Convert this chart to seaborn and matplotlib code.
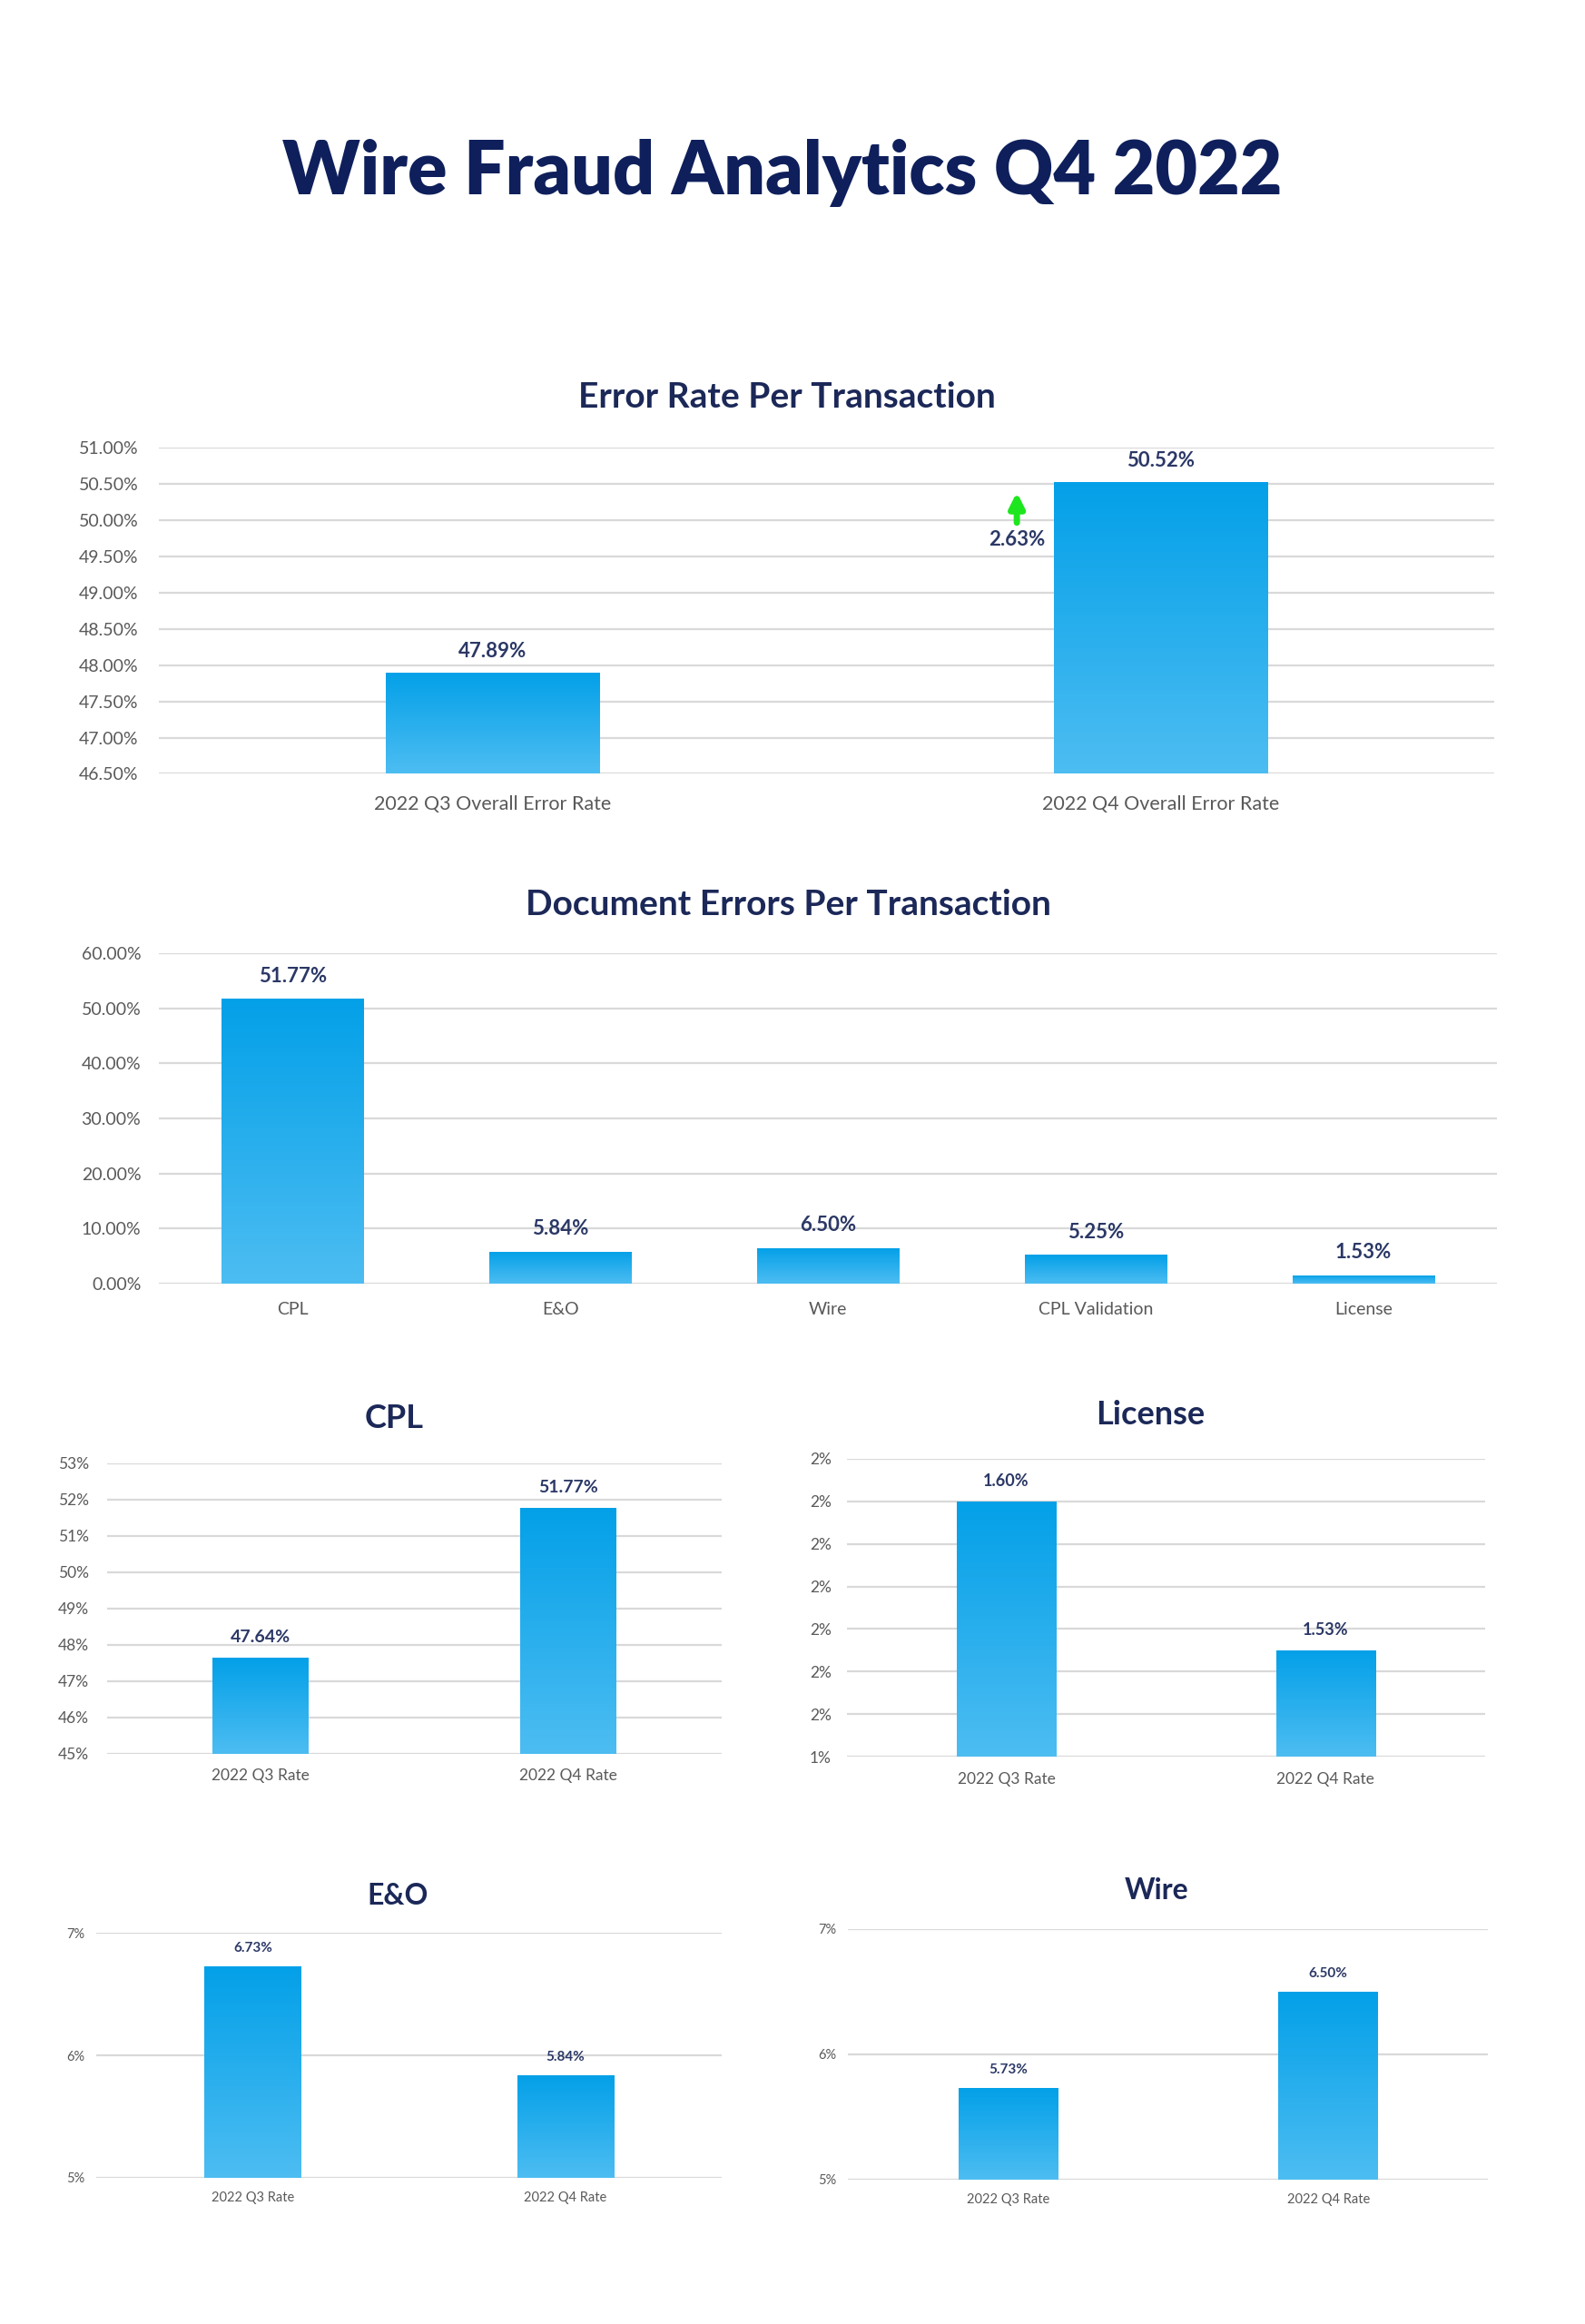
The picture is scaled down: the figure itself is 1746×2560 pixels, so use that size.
import numpy as np
import matplotlib
matplotlib.use("Agg")
import matplotlib.pyplot as plt
import seaborn as sns
from matplotlib.colors import LinearSegmentedColormap

# Данные
title_main = "Wire Fraud Analytics Q4 2022"

overall_labels = ["2022 Q3 Overall Error Rate", "2022 Q4 Overall Error Rate"]
overall_values = [47.89, 50.52]
overall_change = 2.63

doc_labels = ["CPL", "E&O", "Wire", "CPL Validation", "License"]
doc_values = [51.77, 5.84, 6.50, 5.25, 1.53]

rate_labels = ["2022 Q3 Rate", "2022 Q4 Rate"]
cpl_values = [47.64, 51.77]
license_values = [1.60, 1.53]
eo_values = [6.73, 5.84]
wire_values = [5.73, 6.50]

# Стиль
sns.set_theme(style="white")
plt.rcParams["font.family"] = ["Lato", "DejaVu Sans"]

NAVY = "#0e1f5b"
SUB = "#1b2858"
LBL = "#2b3866"
TICK = "#595959"
GRID = "#d9d9d9"
grad = LinearSegmentedColormap.from_list("bar", ["#4dbdf2", "#03a0e8"])

fig = plt.figure(figsize=(17.46, 25.6), dpi=100)
fig.patch.set_facecolor("white")

fig.text(0.4938, 0.9254, title_main, ha="center", va="center",
         fontsize=58, fontweight="heavy", color=NAVY)


def draw_bars(rect, labels, values, ylim, yticks, fmt, width, title, title_xy,
              title_size, ytick_size, xtick_size, lbl_size, lbl_off, xpad, ypad):
    ax = fig.add_axes(rect)
    sns.barplot(x=labels, y=values, color="#1aa8eb", width=width,
                saturation=1, linewidth=0, ax=ax)
    ax.set_ylim(*ylim)
    ax.set_yticks(yticks)
    ax.set_yticklabels([fmt.format(t) for t in yticks])
    xl = ax.get_xlim()
    # градиент на каждом столбце
    g = np.linspace(0, 1, 256).reshape(-1, 1)
    for p in ax.patches:
        x0, w, h = p.get_x(), p.get_width(), p.get_height()
        y_bot = max(ylim[0], p.get_y())
        im = ax.imshow(g, cmap=grad, origin="lower", aspect="auto",
                       extent=[x0, x0 + w, y_bot, p.get_y() + h], zorder=2)
        im.set_clip_path(p)
        ax.annotate(f"{h:.2f}%", (x0 + w / 2, h), xytext=(0, lbl_off),
                    textcoords="offset points", ha="center", va="center",
                    fontsize=lbl_size, fontweight="bold", color=LBL)
    ax.set_xlim(xl)
    ax.set_ylim(*ylim)
    ax.yaxis.grid(True, color=GRID, linewidth=1.6)
    ax.set_axisbelow(True)
    sns.despine(ax=ax, left=True, bottom=True)
    ax.tick_params(axis="x", length=0, pad=xpad, labelsize=xtick_size, colors=TICK)
    ax.tick_params(axis="y", length=0, pad=ypad, labelsize=ytick_size, colors=TICK)
    ax.set_xlabel("")
    ax.set_ylabel("")
    fig.text(title_xy[0], title_xy[1], title, ha="center", va="center",
             fontsize=title_size, fontweight="bold", color=SUB)
    return ax


ax1 = draw_bars([0.1001, 0.6670, 0.8427, 0.1404], overall_labels, overall_values,
                (46.5, 51.0), np.arange(46.5, 51.01, 0.5), "{:.2f}%", 0.32,
                "Error Rate Per Transaction", (0.4966, 0.8290), 28,
                14, 15.5, 16, 17, 17, 16)
# стрелка роста
ax1.annotate("", xy=(0.785, 50.42), xytext=(0.785, 49.93),
             arrowprops=dict(arrowstyle="-|>", color="#1ee61e", lw=5,
                             mutation_scale=24))
ax1.text(0.785, 49.73, f"{overall_change:.2f}%", ha="center", va="center",
         fontsize=16, fontweight="bold", color=LBL)

draw_bars([0.1001, 0.4476, 0.8446, 0.1422], doc_labels, doc_values,
          (0, 60), np.arange(0, 60.1, 10), "{:.2f}%", 0.53,
          "Document Errors Per Transaction", (0.4976, 0.6109), 28,
          14, 14, 16, 18, 14, 14)

draw_bars([0.0673, 0.2454, 0.3882, 0.1250], rate_labels, cpl_values,
          (45, 53), np.arange(45, 53.1, 1), "{:.0f}%", 0.31,
          "CPL", (0.2488, 0.3895), 26,
          12.5, 12.5, 14, 16, 12, 14)

draw_bars([0.5341, 0.2441, 0.4031, 0.1282], rate_labels, license_values,
          (1.48, 1.62), np.arange(1.48, 1.621, 0.02), "{:.0f}%", 0.31,
          "License", (0.7258, 0.3914), 26,
          12.5, 12.5, 13, 16, 12, 12)

draw_bars([0.0608, 0.0629, 0.3947, 0.1053], rate_labels, eo_values,
          (5, 7), np.arange(5, 7.1, 1), "{:.0f}%", 0.31,
          "E&O", (0.2507, 0.1841), 23,
          10.5, 10.5, 11, 14, 11, 9)

draw_bars([0.5350, 0.0623, 0.4040, 0.1078], rate_labels, wire_values,
          (5, 7), np.arange(5, 7.1, 1), "{:.0f}%", 0.31,
          "Wire", (0.7295, 0.1867), 23,
          10.5, 10.5, 11, 14, 11, 9)

plt.savefig("out.png", dpi=100, facecolor="white")
